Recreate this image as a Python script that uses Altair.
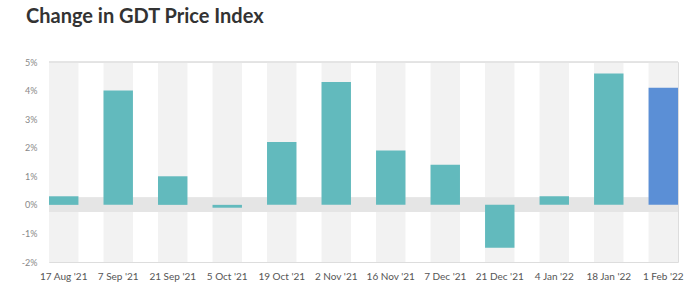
import altair as alt
import pandas as pd

dates = ["17 Aug '21", "7 Sep '21", "21 Sep '21", "5 Oct '21", "19 Oct '21", "2 Nov '21",
         "16 Nov '21", "7 Dec '21", "21 Dec '21", "4 Jan '22", "18 Jan '22", "1 Feb '22"]
changes = [0.3, 4.0, 1.0, -0.1, 2.2, 4.3, 1.9, 1.4, -1.5, 0.3, 4.6, 4.1]
kinds = ["past"] * 11 + ["latest"]
y_ticks = [-2, -1, 0, 1, 2, 3, 4, 5]

df = pd.DataFrame({"date": dates, "change": changes, "kind": kinds})

W, H = 629, 200
yscale = alt.Scale(domain=[-2, 5], nice=False, zero=False)
yaxis = alt.Axis(values=y_ticks, tickCount=8, labelExpr="datum.value + '%'", grid=False,
                 ticks=False, domain=False, title=None, labelFont="Lato",
                 labelFontSize=9, labelColor="#888888", labelPadding=12,
                 labelOverlap=False, labelFlush=False)
xenc = alt.X("date:N", sort=dates,
             scale=alt.Scale(paddingInner=0.46, paddingOuter=0),
             axis=alt.Axis(title=None, labelAngle=0, ticks=False, domain=False,
                           labelPadding=9, labelFont="Lato", labelFontSize=10,
                           labelColor="#555555", labelOverlap=False))

base = alt.Chart(df)

cols = base.mark_bar(color="#f2f2f2").encode(
    x=xenc,
    y=alt.Y("colTop:Q", scale=yscale, axis=yaxis),
    y2=alt.Y2(datum=-2),
).transform_calculate(colTop="5")

band = base.mark_rect(color="#e5e5e5").encode(
    x=alt.value(0), x2=alt.value(W),
    y=alt.Y(datum=0.25, type="quantitative", scale=yscale),
    y2=alt.Y2(datum=-0.25),
)

topline = base.mark_rule(color="#e4e4e4", strokeWidth=1).encode(
    y=alt.Y(datum=5, type="quantitative", scale=yscale),
)

bars = base.mark_bar().encode(
    x=xenc,
    y=alt.Y("change:Q", scale=yscale, axis=yaxis),
    color=alt.Color("kind:N", scale=alt.Scale(domain=["past", "latest"],
                                              range=["#62babd", "#5b8fd6"]), legend=None),
)

chart = alt.layer(cols, band, topline, bars).properties(
    width=W, height=H,
    autosize="none",
    padding={"left": 49, "top": 62, "right": 21, "bottom": 28},
    title=alt.TitleParams("Change in GDT Price Index", anchor="start", font="Lato",
                          fontSize=20, fontWeight="bold", color="#333333", frame="group",
                          dx=-23, offset=15, baseline="alphabetic"),
).configure_view(stroke=None).configure(background="white")

chart.save("out.html", embed_options={"renderer": "svg", "actions": False})
